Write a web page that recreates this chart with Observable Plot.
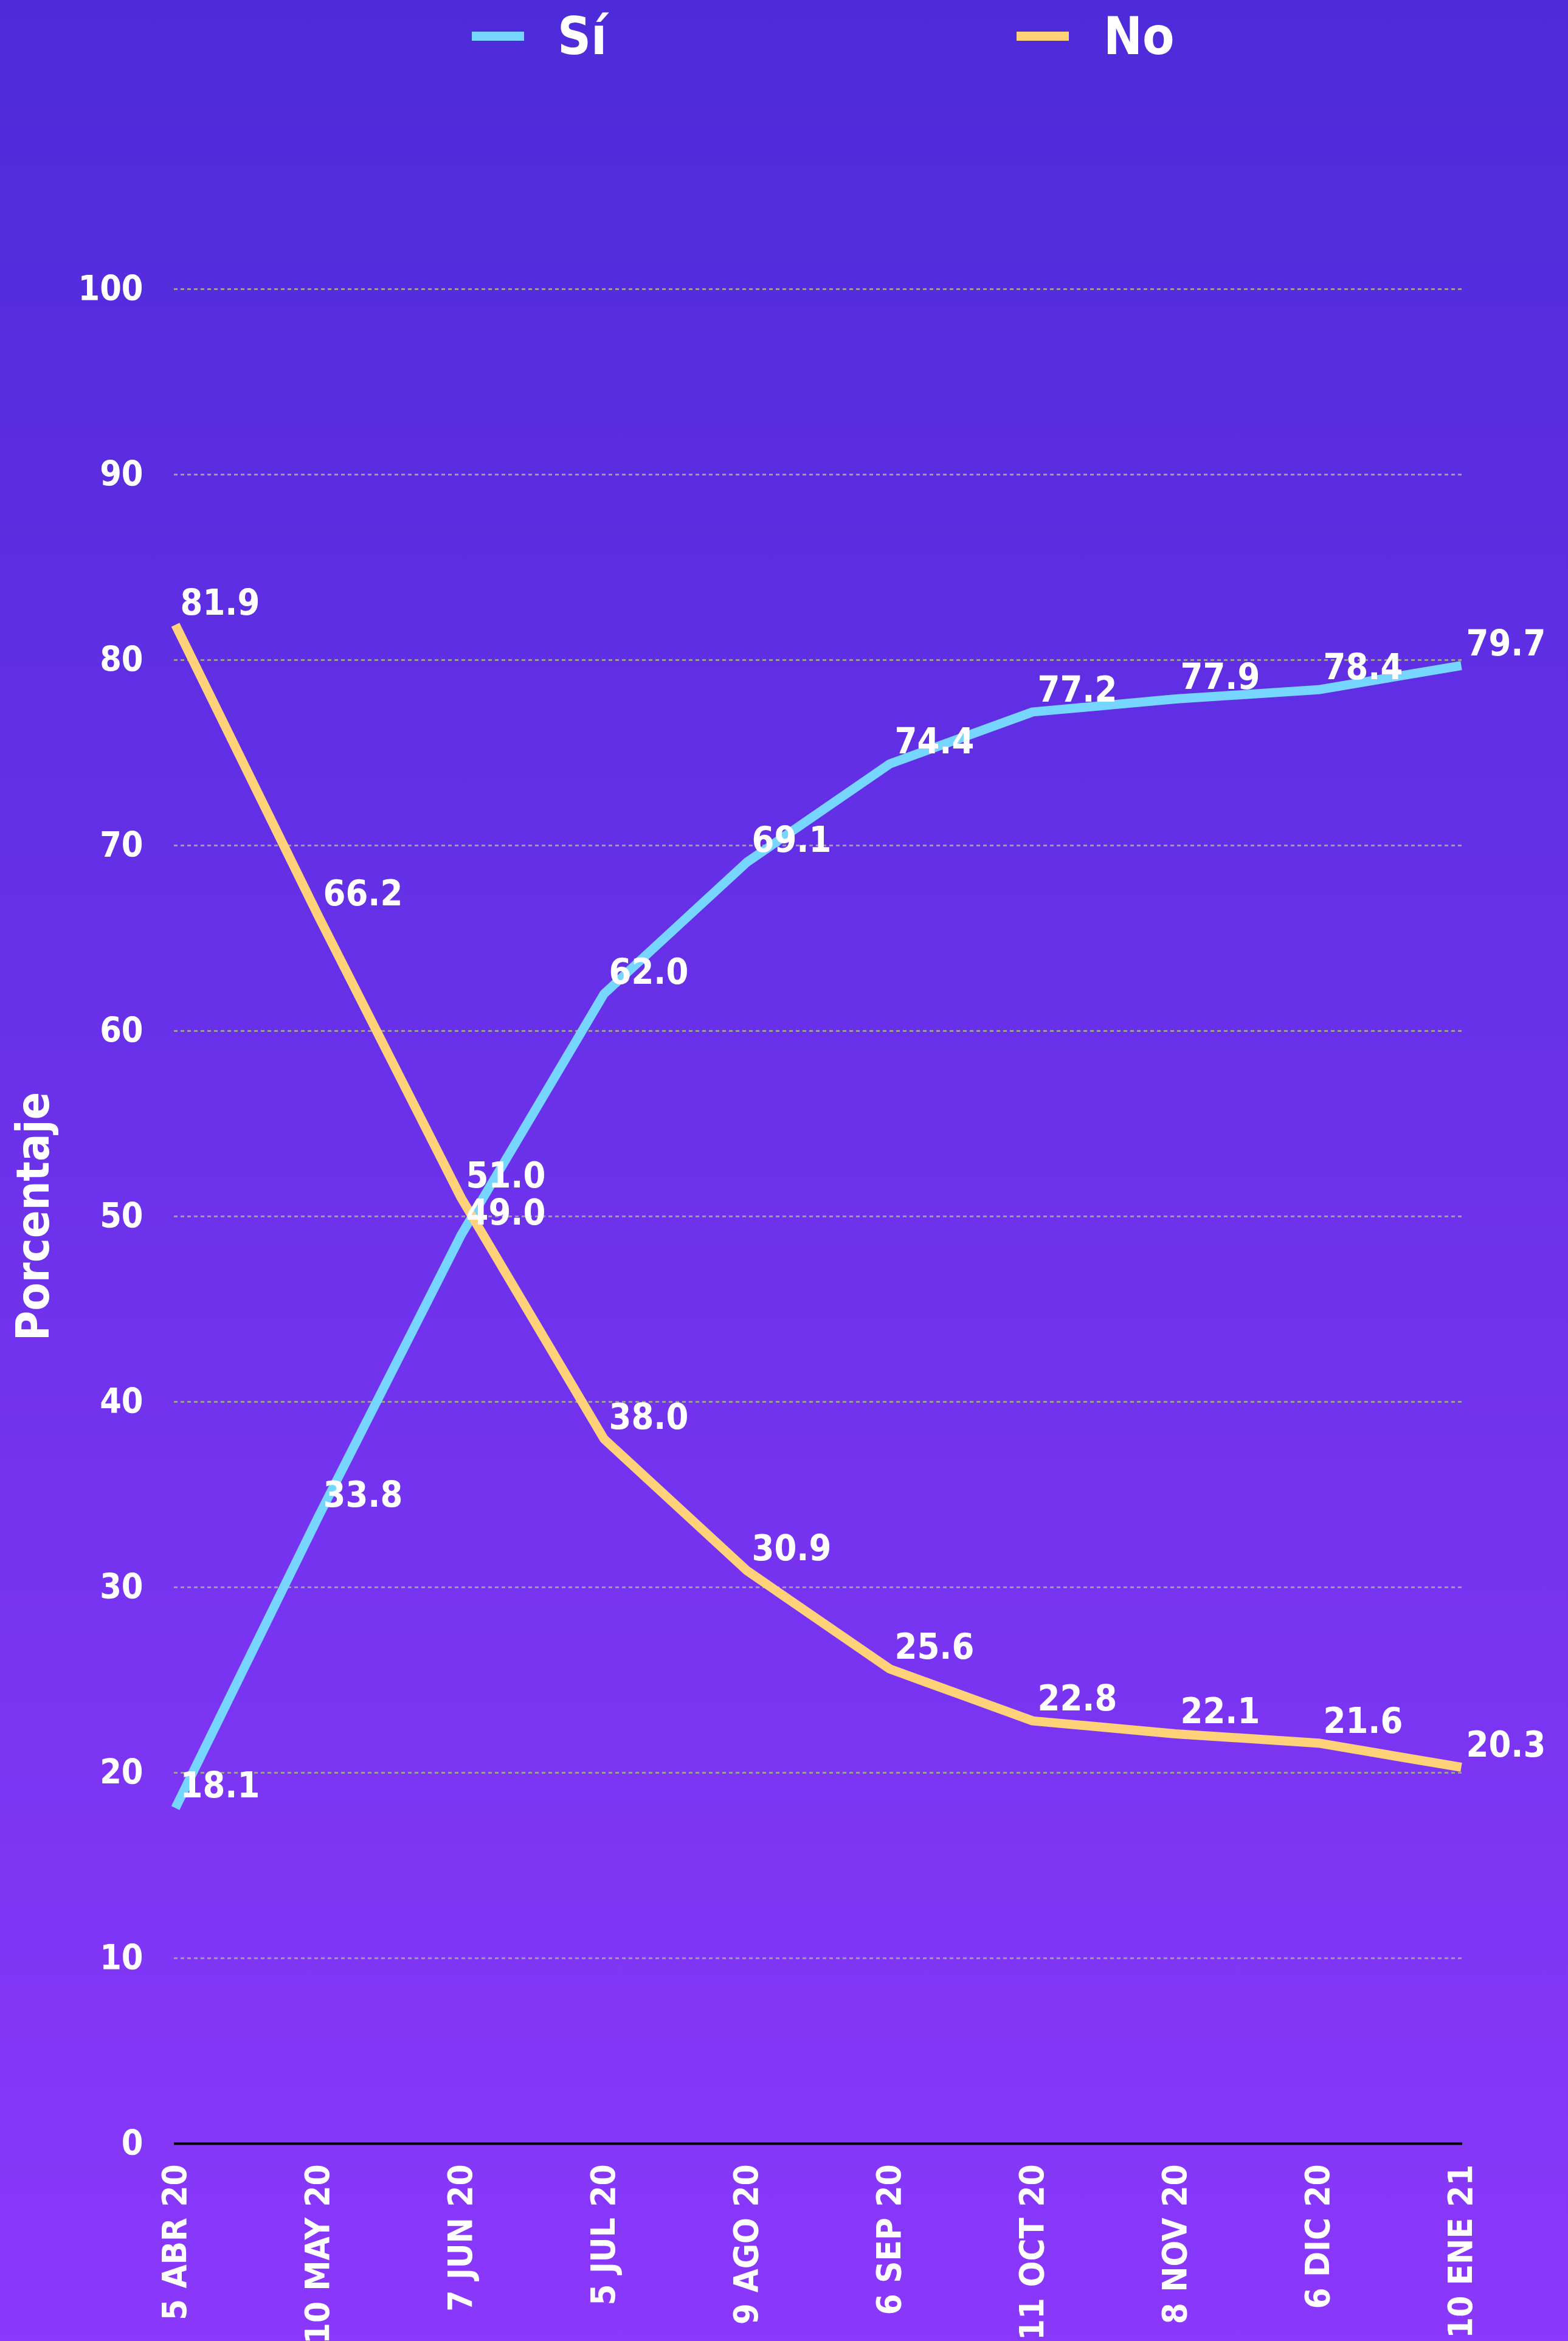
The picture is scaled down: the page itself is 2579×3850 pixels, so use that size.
<!DOCTYPE html>
<html>
<head>
<meta charset="utf-8">
<script src="https://cdn.jsdelivr.net/npm/d3@7"></script>
<script src="https://cdn.jsdelivr.net/npm/@observablehq/plot@0.6"></script>
<style>
  html, body { margin: 0; padding: 0; }
  body {
    width: 2579px; height: 3850px; overflow: hidden;
    background: linear-gradient(to bottom, #4e2bd9 0%, #8a38fb 100%);
    font-family: "DejaVu Sans Condensed", "DejaVu Sans", sans-serif;
    font-stretch: condensed;
    color: white;
  }
  #legend { position: relative; height: 120px; width: 2579px; }
  .swatch { position: absolute; top: 52px; width: 86px; height: 15px; }
  .ltext { position: absolute; top: 0px; font-size: 85px; font-weight: bold; line-height: 120px; height: 120px; }
  svg { display: block; }
</style>
</head>
<body>
<div id="legend"></div>
<div id="chart"></div>
<script>
const dates = ["5 ABR 20", "10 MAY 20", "7 JUN 20", "5 JUL 20", "9 AGO 20", "6 SEP 20", "11 OCT 20", "8 NOV 20", "6 DIC 20", "10 ENE 21"];
const seriesNames = ["Sí", "No"];
const seriesColors = ["#76d6ff", "#ffd27a"];
const siValues = [18.1, 33.8, 49.0, 62.0, 69.1, 74.4, 77.2, 77.9, 78.4, 79.7];
const noValues = [81.9, 66.2, 51.0, 38.0, 30.9, 25.6, 22.8, 22.1, 21.6, 20.3];
const yTicks = [0, 10, 20, 30, 40, 50, 60, 70, 80, 90, 100];
const yTitle = "Porcentaje";

// legend
const legendPos = [{sw: 776, tx: 917}, {sw: 1672, tx: 1815}];
const legend = document.getElementById("legend");
seriesNames.forEach((name, i) => {
  const sw = document.createElement("div");
  sw.className = "swatch";
  sw.style.left = legendPos[i].sw + "px";
  sw.style.background = seriesColors[i];
  legend.appendChild(sw);
  const t = document.createElement("div");
  t.className = "ltext";
  t.style.left = legendPos[i].tx + "px";
  t.textContent = name;
  legend.appendChild(t);
});

const data = [];
dates.forEach((d, i) => {
  data.push({date: d, series: "Sí", value: siValues[i]});
  data.push({date: d, series: "No", value: noValues[i]});
});

const chart = Plot.plot({
  width: 2579,
  height: 3730,
  marginTop: 355,
  marginBottom: 325,
  marginLeft: 286,
  marginRight: 174,
  style: {
    background: "transparent",
    color: "white",
    fontFamily: "'DejaVu Sans Condensed', 'DejaVu Sans', sans-serif",
    fontStretch: "condensed",
    overflow: "visible"
  },
  x: {type: "point", domain: dates, padding: 0},
  y: {domain: [0, 100]},
  color: {domain: seriesNames, range: seriesColors},
  marks: [
    Plot.gridY(yTicks.filter(d => d > 0), {stroke: "#9c9c9c", strokeOpacity: 1, strokeWidth: 3, strokeDasharray: "6,5"}),
    Plot.ruleY([0], {stroke: "black", strokeWidth: 4}),
    Plot.axisY({ticks: yTicks, tickSize: 0, tickPadding: 51, fontSize: 57, fontWeight: "bold", label: null, fill: "white"}),
    Plot.axisX({tickSize: 0, tickPadding: 34, tickRotate: -90, fontSize: 56, fontWeight: "bold", label: null, fill: "white"}),
    Plot.line(data, {x: "date", y: "value", z: "series", stroke: "series", strokeWidth: 15, strokeLinecap: "butt", strokeLinejoin: "miter"}),
    Plot.text(data, {x: "date", y: "value", text: d => d.value.toFixed(1), textAnchor: "start", lineAnchor: "bottom", dx: 8, dy: -17, fill: "white", fontSize: 59, fontWeight: "bold"}),
    Plot.text([yTitle], {frameAnchor: "left", textAnchor: "middle", rotate: -90, dx: -207, lineAnchor: "bottom", fontSize: 75, fontWeight: "bold", fill: "white"})
  ]
});
document.getElementById("chart").appendChild(chart);
</script>
</body>
</html>
